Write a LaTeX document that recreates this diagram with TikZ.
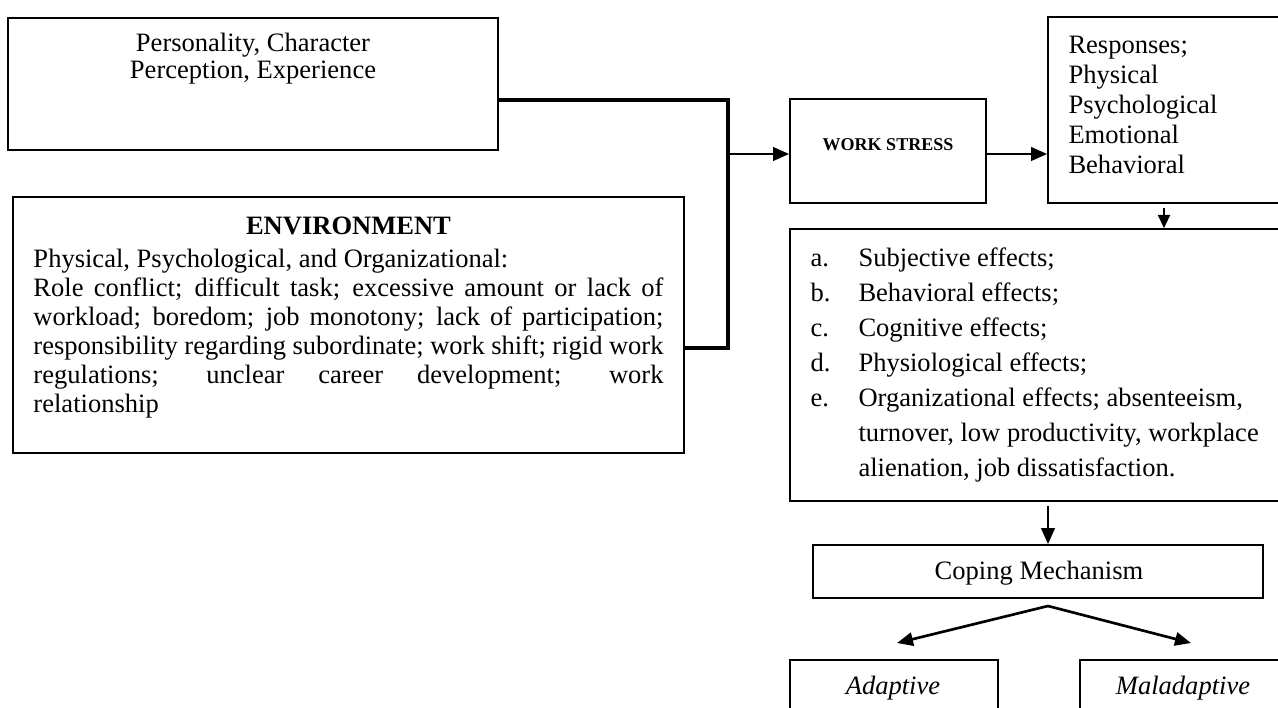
\documentclass[tikz,border=0pt]{standalone}
\usepackage{fontspec}
\setmainfont{Liberation Serif}
\usetikzlibrary{arrows.meta}

\tikzset{every picture/.style={line width=0.75pt}}
\tikzset{
  box/.style={draw, line width=1.2pt, inner sep=0pt},
  arr/.style={line width=2pt, -{Triangle[length=12pt,width=10pt]}},
  smallarr/.style={line width=1.6pt, -{Triangle[length=10pt,width=9pt]}},
  thickline/.style={line width=3pt},
  bodyfont/.style={font=\fontsize{19.9}{#1}\selectfont}
}

\begin{document}
\begin{tikzpicture}[x=0.75pt,y=0.75pt,yscale=-1,xscale=1]
	\useasboundingbox (0,0) rectangle (1278,707);
	\clip (0,0) rectangle (1278,707);

	%Shape: Rectangle [id:pers]
	\node [box, minimum width=367.5pt, minimum height=99pt] (pers) at (253,84) {};
	%Shape: Rectangle [id:env]
	\node [box, minimum width=503.25pt, minimum height=192pt] (env) at (348.5,325) {};
	%Shape: Rectangle [id:stress]
	\node [box, minimum width=147pt, minimum height=78pt] (stress) at (888,151) {};
	%Shape: Rectangle [id:resp]
	\node [box, minimum width=189pt, minimum height=139.5pt] (resp) at (1174,110) {};
	%Shape: Rectangle [id:effects]
	\node [box, minimum width=382.5pt, minimum height=204pt] (effects) at (1045,365) {};
	%Shape: Rectangle [id:coping]
	\node [box, minimum width=337.5pt, minimum height=39.75pt] (coping) at (1038,571.5) {};
	%Shape: Rectangle [id:adapt]
	\node [box, minimum width=156pt, minimum height=45pt] (adapt) at (894,690) {};
	%Shape: Rectangle [id:malad]
	\node [box, minimum width=165pt, minimum height=45pt] (malad) at (1190,690) {};

	% free ends of the connectors
	\coordinate (jtop) at (728,100);
	\coordinate (jmid) at (728,154);
	\coordinate (jbot) at (728,348);
	\coordinate (rdown) at (1164,208);
	\coordinate (edown) at (1048,506);
	\coordinate (csplit) at (1048,606);
	\coordinate (atip) at (897,643);
	\coordinate (mtip) at (1191,643);

	%Straight Lines [id:join]
	\draw [thickline] (pers.east |- jtop) -- (jtop) -- (jbot) -- (env.east |- jbot) ;
	%Straight Lines [id:tostress]
	\draw [arr] (jmid) -- (stress.west |- jmid) ;
	%Straight Lines [id:toresp]
	\draw [arr] (stress.east |- jmid) -- (resp.west |- jmid) ;
	%Straight Lines [id:toeffects]
	\draw [smallarr] (rdown) -- (effects.north -| rdown) ;
	%Straight Lines [id:tocoping]
	\draw [arr] (edown) -- (coping.north -| edown) ;
	%Straight Lines [id:toadapt]
	\draw [arr] (csplit) -- (atip) ;
	%Straight Lines [id:tomalad]
	\draw [arr] (csplit) -- (mtip) ;

	% Text Node
	\node [bodyfont=20.25pt, align=center] (perstext) at (253,58.5) {Personality, Character\\Perception, Experience};
	% Text Node
	\node [bodyfont=24pt] (envtitle) at (348.5,226) {\bfseries ENVIRONMENT};
	% Text Node
	\node [bodyfont=21.75pt, text width=472.5pt, align=justify, inner sep=0pt, anchor=north west] (envtext) at (33,249) {Physical, Psychological, and Organizational:\\
	Role conflict; difficult task; excessive amount or lack of\linebreak
	workload; boredom; job monotony; lack of participation;\linebreak
	responsibility regarding subordinate; work shift; rigid work\linebreak
	regulations; unclear career development; work\linebreak
	relationship};
	% Text Node
	\node [font=\fontsize{13.5}{16}\selectfont\bfseries] (stresstext) at (888,145) {WORK STRESS};
	% Text Node
	\node [bodyfont=22.5pt, align=left, inner sep=0pt, anchor=north west] (resptext) at (1068,36) {Responses;\\Physical\\Psychological\\Emotional\\Behavioral};
	% Text Node
	\node [bodyfont=26.25pt, align=left, inner sep=0pt, anchor=north west] (efftext) at (810,247.7) {\makebox[36pt][l]{a.}Subjective effects;\\
	\makebox[36pt][l]{b.}Behavioral effects;\\
	\makebox[36pt][l]{c.}Cognitive effects;\\
	\makebox[36pt][l]{d.}Physiological effects;\\
	\makebox[36pt][l]{e.}Organizational effects; absenteeism,\\
	\hspace*{36pt}turnover, low productivity, workplace\\
	\hspace*{36pt}alienation, job dissatisfaction.};
	% Text Node
	\node [bodyfont=24pt] (copingtext) at (1039,573) {Coping Mechanism};
	% Text Node
	\node [bodyfont=24pt] (adapttext) at (893,688) {\itshape Adaptive};
	% Text Node
	\node [bodyfont=24pt] (maladtext) at (1183,688) {\itshape Maladaptive};

\end{tikzpicture}
\end{document}
